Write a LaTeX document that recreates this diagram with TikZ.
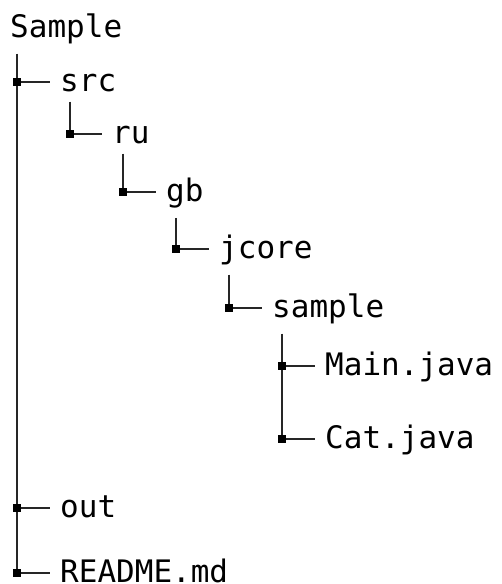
\documentclass[tikz,border=0pt]{standalone}
\usepackage{fontspec}
\setmonofont{DejaVu Sans Mono}
\begin{document}
\begin{tikzpicture}[x=1pt,y=-1pt,
  item/.style={anchor=base west, inner xsep=10pt, inner ysep=0pt,
    font=\ttfamily\fontsize{31}{31}\selectfont, text=black},
  conn/.style={line width=1.3pt, draw=black!85},
  sq/.style={fill=black, inner sep=0pt, minimum size=8pt, rectangle}]
\useasboundingbox (0,0) rectangle (501,584);
% nodes
\node[item, inner xsep=0pt] (root) at (10,37) {Sample};
\node[item] (src) at (50,91) {src};
\node[item] (ru) at (102,143) {ru};
\node[item] (gb) at (156,201) {gb};
\node[item] (jcore) at (209,258) {jcore};
\node[item] (sample) at (262,317) {sample};
\node[item] (main) at (315,375) {Main.java};
\node[item] (cat) at (315,448) {Cat.java};
\node[item] (out) at (50,517) {out};
\node[item] (readme) at (50,582) {README.md};
% marker points
\coordinate (m-src) at (17,82);
\coordinate (m-out) at (17,508);
\coordinate (m-readme) at (17,573);
\coordinate (m-ru) at (70,134);
\coordinate (m-gb) at (123,192);
\coordinate (m-jcore) at (176,249);
\coordinate (m-sample) at (229,308);
\coordinate (m-main) at (282,366);
\coordinate (m-cat) at (282,439);
% verticals
\draw[conn] ([yshift=-10pt]root.south -| m-readme) -- (m-readme);
\draw[conn] ([yshift=-10pt]src.south -| m-ru) -- (m-ru);
\draw[conn] ([yshift=-10pt]ru.south -| m-gb) -- (m-gb);
\draw[conn] ([yshift=-10pt]gb.south -| m-jcore) -- (m-jcore);
\draw[conn] ([yshift=-10pt]jcore.south -| m-sample) -- (m-sample);
\draw[conn] ([yshift=-10pt]sample.south -| m-cat) -- (m-cat);
% horizontals
\foreach \n in {src,out,readme,ru,gb,jcore,sample,main,cat}{
  \draw[conn] (m-\n) -- (m-\n -| \n.west);
  \node[sq] at (m-\n) {};
}
\end{tikzpicture}
\end{document}
